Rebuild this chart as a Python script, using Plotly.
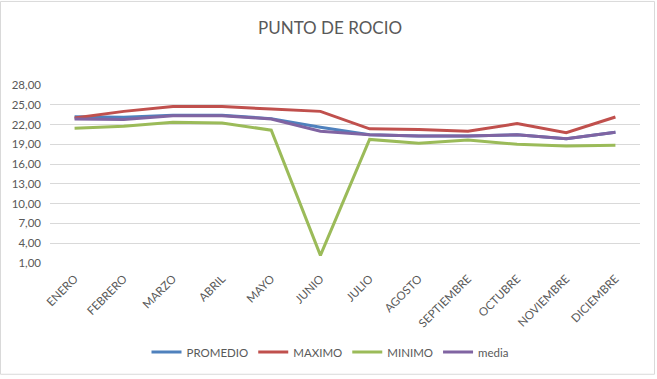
import plotly.graph_objects as go

meses = ["ENERO", "FEBRERO", "MARZO", "ABRIL", "MAYO", "JUNIO", "JULIO",
         "AGOSTO", "SEPTIEMBRE", "OCTUBRE", "NOVIEMBRE", "DICIEMBRE"]
promedio = [23.2, 23.1, 23.4, 23.4, 22.9, 21.6, 20.45, 20.25, 20.25, 20.45, 19.85, 20.85]
maximo = [23.0, 24.0, 24.75, 24.75, 24.35, 24.0, 21.35, 21.25, 21.0, 22.15, 20.75, 23.15]
minimo = [21.45, 21.75, 22.35, 22.25, 21.15, 2.15, 19.75, 19.15, 19.65, 19.0, 18.75, 18.85]
media = [22.85, 22.75, 23.35, 23.35, 22.85, 21.0, 20.45, 20.25, 20.25, 20.45, 19.85, 20.85]

series = [("PROMEDIO", promedio, "#4F81BD"),
          ("MAXIMO", maximo, "#C0504D"),
          ("MINIMO", minimo, "#9BBB59"),
          ("media", media, "#8064A2")]

fig = go.Figure()
for name, vals, col in series:
    fig.add_trace(go.Scatter(x=meses, y=vals, name=name, mode="lines",
                             line=dict(color=col, width=3)))

W, H = 657, 379
L, R, T, B = 50, 17, 85, 114
pw, ph = W - L - R, H - T - B

fig.update_layout(
    width=W, height=H,
    margin=dict(l=L, r=R, t=T, b=B),
    paper_bgcolor="white", plot_bgcolor="white",
    separators=",.",
    font=dict(family="Lato, Liberation Sans, sans-serif", color="#595959", size=11),
    title=dict(text="PUNTO DE ROCIO", x=(330 / W), xanchor="center", y=1 - 28 / H, yanchor="middle",
               font=dict(size=17, color="#595959")),
    showlegend=True,
    legend=dict(orientation="h", x=(330 - L) / pw, xanchor="center", y=-(355 - (H - B)) / ph,
                yanchor="middle", font=dict(size=11.5, color="#595959"),
                itemwidth=30, traceorder="normal"),
    xaxis=dict(type="category", range=[-0.5, len(meses) - 0.5], tickangle=-45,
               showgrid=False, showline=False, ticks="", ticklabelstandoff=6,
               tickfont=dict(size=11.5, color="#595959")),
    yaxis=dict(range=[1, 28], tick0=1, dtick=3, tickformat=".2f", showgrid=True,
               gridcolor="#D9D9D9", gridwidth=1, zeroline=False, showline=False,
               ticks="", ticklabelstandoff=8, tickfont=dict(size=11.5, color="#595959")),
    shapes=[dict(type="rect", xref="paper", yref="paper",
                 x0=(0.5 - L) / pw, x1=(W - 2.5 - L) / pw,
                 y0=-(H - 1.5 - (H - B)) / ph, y1=(H - B - 0.5) / ph,
                 line=dict(color="#D9D9D9", width=1), layer="below")],
)

fig.write_html("out.html")
